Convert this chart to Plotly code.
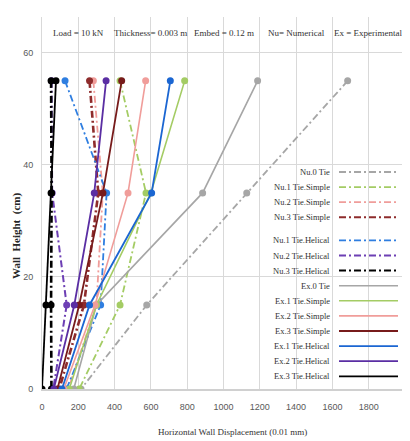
import plotly.graph_objects as go

# ---------------- data ----------------
heights = [55, 35, 15, 0]  # wall height (cm)

series_names = [
    "Nu.0 Tie", "Nu.1 Tie.Simple", "Nu.2 Tie.Simple", "Nu.3 Tie.Simple",
    "Nu.1 Tie.Helical", "Nu.2 Tie.Helical", "Nu.3 Tie.Helical",
    "Ex.0 Tie", "Ex.1 Tie.Simple", "Ex.2 Tie.Simple", "Ex.3 Tie.Simple",
    "Ex.1 Tie.Helical", "Ex.2 Tie.Helical", "Ex.3 Tie.Helical",
]

nu0_tie = [1684, 1128, 577, 215]
nu1_simple = [430, 573, 430, 205]
nu2_simple = [283, 335, 300, 145]
nu3_simple = [262, 310, 231, 95]
nu1_helical = [127, 356, 323, 135]
nu2_helical = [53, 56, 136, 62]
nu3_helical = [50, 53, 50, 52]
ex0_tie = [1188, 885, 300, 175]
ex1_simple = [786, 600, 300, 150]
ex2_simple = [571, 474, 292, 120]
ex3_simple = [439, 336, 205, 85]
ex1_helical = [707, 604, 262, 110]
ex2_helical = [353, 288, 178, 65]
ex3_helical = [77, 50, 22, 0]

series_values = [
    nu0_tie, nu1_simple, nu2_simple, nu3_simple,
    nu1_helical, nu2_helical, nu3_helical,
    ex0_tie, ex1_simple, ex2_simple, ex3_simple,
    ex1_helical, ex2_helical, ex3_helical,
]

x_ticks = [0, 200, 400, 600, 800, 1000, 1200, 1400, 1600, 1800, 2000]
y_ticks = [0, 20, 40, 60]

info_labels = ["Load = 10 kN", "Thickness= 0.003 m", "Embed = 0.12 m",
               "Nu= Numerical", "Ex = Experimental"]
info_x = [200, 600, 1000, 1400, 1800]

# ---------------- styles ----------------
GRAY = "#a6a6a6"
GREEN = "#a4cc64"
PINK = "#f09d9a"
DRED_NU = "#8e2c2c"
DRED_EX = "#771b1b"
BLUE_NU = "#2f7ee0"
BLUE_EX = "#1b66d2"
PURP_NU = "#6d3fb4"
PURP_EX = "#5a2ea3"
BLACK = "#000000"

colors = [GRAY, GREEN, PINK, DRED_NU, BLUE_NU, PURP_NU, BLACK,
          GRAY, GREEN, PINK, DRED_EX, BLUE_EX, PURP_EX, BLACK]
DASHDOT = "7px,3px,2px,3px"
dashes = [DASHDOT] * 7 + ["solid"] * 7
widths = [1.8, 1.8, 1.8, 2.6, 1.8, 2.0, 2.6,
          1.6, 1.6, 1.6, 1.8, 1.8, 1.8, 1.8]

fig = go.Figure()
for name, vals, c, d, w in zip(series_names, series_values, colors, dashes, widths):
    fig.add_trace(go.Scatter(
        x=vals, y=heights, name=name, mode="lines+markers",
        line=dict(color=c, dash=d, width=w),
        marker=dict(color=c, size=7, symbol="circle"),
        showlegend=False,
    ))

# ---------------- geometry helpers (page pixels; page body has 8px margin) ----------------
OFF = 8
PAGE_W, PAGE_H = 410, 441
W, H = PAGE_W - OFF, PAGE_H - OFF
P_LEFT, P_RIGHT, P_TOP, P_BOTTOM = 42, 405, 17, 389  # plot area in page pixels
ML, MT = P_LEFT - OFF, P_TOP - OFF
MR, MB = PAGE_W - P_RIGHT, PAGE_H - P_BOTTOM
XMAX = 2000
YMAX = 66.4
plot_w = P_RIGHT - P_LEFT
plot_h = P_BOTTOM - P_TOP


def px_to_x(px):
    return (px - P_LEFT) / plot_w * XMAX


def py_to_y(py):
    return (P_BOTTOM - py) / plot_h * YMAX


SERIF = "Liberation Serif, Times New Roman, serif"
TXT = "#333333"

annotations = []
for lab, xv in zip(info_labels, info_x):
    annotations.append(dict(
        x=xv, y=py_to_y(33), xref="x", yref="y", text=lab, showarrow=False,
        font=dict(family=SERIF, size=9, color=TXT), xanchor="center", yanchor="middle"))

# custom legend (text on the left, line sample on the right)
legend_py = []
py = 172
for i in range(len(series_names)):
    if i == 4:
        py += 8
    legend_py.append(py)
    py += 15.1

shapes = []
for name, c, d, w, lp in zip(series_names, colors, dashes, widths, legend_py):
    yv = py_to_y(lp)
    annotations.append(dict(
        x=px_to_x(332), y=yv, xref="x", yref="y", text=name, showarrow=False,
        font=dict(family=SERIF, size=8.5, color=TXT), xanchor="right", yanchor="middle"))
    shapes.append(dict(
        type="line", xref="x", yref="y", x0=px_to_x(339), x1=px_to_x(398), y0=yv, y1=yv,
        line=dict(color=c, dash=d, width=min(w, 2.0))))

# axis titles
annotations.append(dict(
    x=px_to_x(232), y=(P_BOTTOM - 432) / plot_h, xref="x", yref="paper",
    text="Horizontal Wall Displacement (0.01 mm)", showarrow=False,
    font=dict(family=SERIF, size=9, color=TXT), xanchor="center", yanchor="middle"))
annotations.append(dict(
    x=(16 - P_LEFT) / plot_w, y=py_to_y(236), xref="paper", yref="y",
    text="<b>Wall  Height  (cm)</b>", showarrow=False, textangle=-90,
    font=dict(family=SERIF, size=11, color="#262626"), xanchor="center", yanchor="middle"))

TICKFONT = dict(family="Liberation Sans Narrow, Liberation Sans, Arial, sans-serif", size=9, color="#595959")

fig.update_layout(
    width=W, height=H,
    margin=dict(l=ML, r=MR, t=MT, b=MB),
    paper_bgcolor="white", plot_bgcolor="white",
    annotations=annotations, shapes=shapes,
    showlegend=False,
    xaxis=dict(range=[0, XMAX], tickvals=x_ticks, ticktext=[str(v) for v in x_ticks],
               showgrid=True, gridcolor="#d9d9d9", gridwidth=1, zeroline=False,
               showline=True, linecolor="#d0d0d0", linewidth=2,
               ticks="outside", ticklen=8, tickcolor="rgba(0,0,0,0)", tickfont=TICKFONT),
    yaxis=dict(range=[0, YMAX], tickvals=y_ticks, ticktext=[str(v) for v in y_ticks],
               showgrid=True, gridcolor="#d9d9d9", gridwidth=1, zeroline=False,
               showline=True, linecolor="#d9d9d9", linewidth=1,
               ticks="outside", ticklen=6, tickcolor="rgba(0,0,0,0)", tickfont=TICKFONT),
)

fig.write_html("out.html")
